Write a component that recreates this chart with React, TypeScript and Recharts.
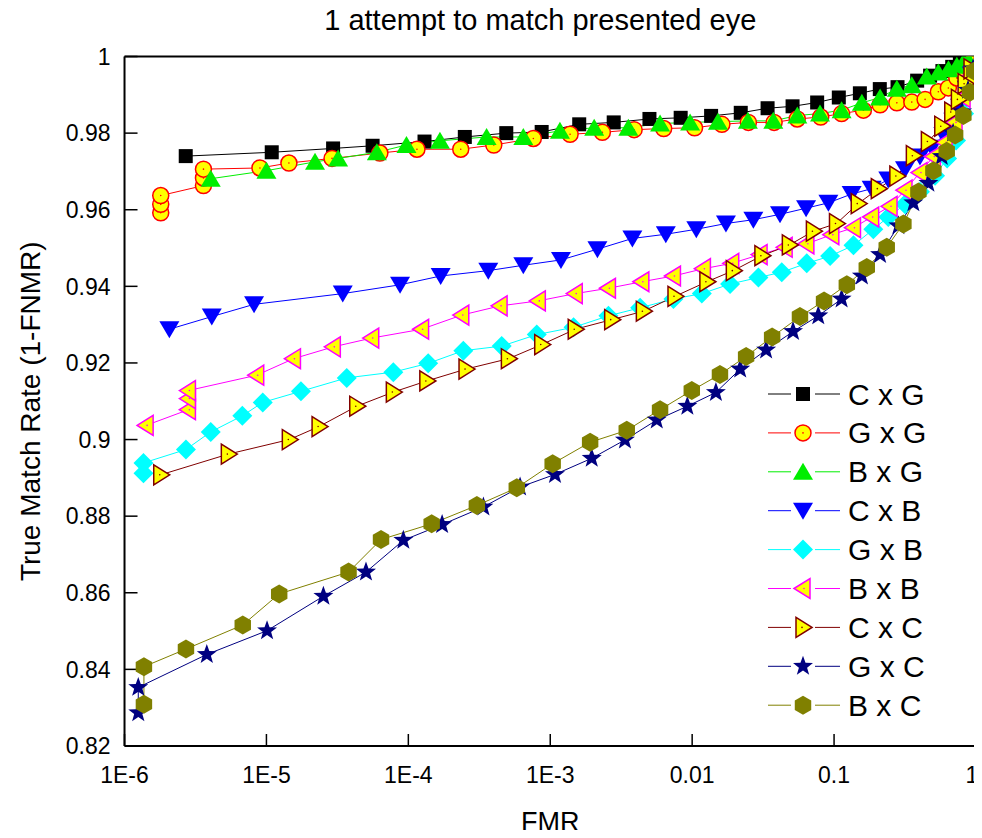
import React from 'react';
import { LineChart, Line, XAxis, YAxis, Legend } from 'recharts';

const FONT = '"Liberation Sans", Arial, sans-serif';

// axis ticks
const xTicks = [1e-6, 1e-5, 1e-4, 1e-3, 0.01, 0.1, 1];
const xTickLabels = ['1E-6', '1E-5', '1E-4', '1E-3', '0.01', '0.1', '1'];
const yTicks = [0.82, 0.84, 0.86, 0.88, 0.9, 0.92, 0.94, 0.96, 0.98, 1];
const yTickLabels = ['0.82', '0.84', '0.86', '0.88', '0.9', '0.92', '0.94', '0.96', '0.98', '1'];

// minor tick positions (2..9 per decade, every 0.005 on y)
const xMinor: number[] = [];
for (let d = -6; d < 0; d++) for (let m = 2; m <= 9; m++) xMinor.push(m * Math.pow(10, d));
const yMinor: number[] = [];
for (let i = 0; i <= 36; i++) yMinor.push(Math.round((0.82 + i * 0.005) * 1000) / 1000);

// [FMR, true match rate]
const cxg: [number, number][] = [
  [2.7e-6, 0.974], [1.09e-5, 0.975], [2.95e-5, 0.976], [5.6e-5, 0.9767], [1.3e-4, 0.9778],
  [2.5e-4, 0.979], [4.9e-4, 0.98], [8.7e-4, 0.9803], [1.6e-3, 0.9823], [2.8e-3, 0.9828],
  [5.0e-3, 0.9837], [8.3e-3, 0.984], [1.36e-2, 0.9845], [2.2e-2, 0.9853], [3.4e-2, 0.9865],
  [5.1e-2, 0.987], [7.6e-2, 0.988], [0.108, 0.9893], [0.152, 0.9904], [0.21, 0.9915],
  [0.28, 0.992], [0.385, 0.9937], [0.475, 0.995], [0.58, 0.9962], [0.68, 0.9973],
  [0.77, 0.9985], [0.88, 0.9996], [0.98, 1.0],
];
const gxg: [number, number][] = [
  [1.8e-6, 0.9592], [1.8e-6, 0.9614], [1.8e-6, 0.9637], [3.6e-6, 0.9663], [3.6e-6, 0.9683],
  [3.6e-6, 0.9706], [9.0e-6, 0.9709], [1.44e-5, 0.9722], [2.9e-5, 0.9734], [6.3e-5, 0.9748],
  [1.15e-4, 0.9758], [2.34e-4, 0.9758], [4.0e-4, 0.9769], [7.6e-4, 0.9786], [1.38e-3, 0.9797],
  [2.33e-3, 0.9802], [3.9e-3, 0.9809], [6.3e-3, 0.9812], [1.04e-2, 0.9814], [1.62e-2, 0.9823],
  [2.49e-2, 0.9828], [3.78e-2, 0.9828], [5.5e-2, 0.9837], [8.05e-2, 0.9842], [0.113, 0.9851],
  [0.161, 0.986], [0.211, 0.9874], [0.277, 0.9879], [0.353, 0.9881], [0.438, 0.9888],
  [0.543, 0.9908], [0.639, 0.9918], [0.733, 0.9944], [0.815, 0.9958], [0.884, 0.9972],
  [0.97, 0.9996],
];
const bxg: [number, number][] = [
  [4.05e-6, 0.9681], [1.0e-5, 0.9702], [2.2e-5, 0.9725], [3.2e-5, 0.9734], [6.0e-5, 0.975],
  [9.7e-5, 0.9769], [1.67e-4, 0.978], [3.56e-4, 0.979], [6.46e-4, 0.979], [1.17e-3, 0.9806],
  [2.04e-3, 0.9814], [3.55e-3, 0.9814], [5.94e-3, 0.9825], [9.67e-3, 0.9828], [1.52e-2, 0.983],
  [2.47e-2, 0.9832], [3.73e-2, 0.9832], [5.51e-2, 0.9846], [7.96e-2, 0.9851], [0.113, 0.986],
  [0.157, 0.9879], [0.211, 0.9893], [0.277, 0.9916], [0.353, 0.9925], [0.45, 0.9948],
  [0.543, 0.9958], [0.64, 0.9967], [0.733, 0.9976], [0.815, 0.9985], [0.884, 0.999],
];
const cxb: [number, number][] = [
  [2.07e-6, 0.9288], [4.12e-6, 0.9321], [8.18e-6, 0.9353], [3.45e-5, 0.9381], [8.74e-5, 0.9404],
  [1.69e-4, 0.9427], [3.66e-4, 0.9441], [6.46e-4, 0.9455], [1.19e-3, 0.9469], [2.15e-3, 0.9497],
  [3.79e-3, 0.9525], [6.52e-3, 0.9536], [1.07e-2, 0.9549], [1.73e-2, 0.9564], [2.7e-2, 0.9574],
  [4.16e-2, 0.9588], [6.35e-2, 0.9604], [9.12e-2, 0.9618], [0.133, 0.9641], [0.184, 0.9655],
  [0.241, 0.9679], [0.316, 0.9706], [0.403, 0.9739], [0.488, 0.9762], [0.589, 0.9795],
  [0.693, 0.9832], [0.773, 0.9869], [0.861, 0.9916], [0.935, 0.9953],
];
const gxb: [number, number][] = [
  [1.36e-6, 0.8912], [1.36e-6, 0.8939], [2.71e-6, 0.8974], [4.05e-6, 0.902], [6.76e-6, 0.9062],
  [9.42e-6, 0.9097], [1.75e-5, 0.9126], [3.68e-5, 0.9161], [7.84e-5, 0.9176], [1.38e-4, 0.9199],
  [2.44e-4, 0.9232], [4.55e-4, 0.9244], [8.03e-4, 0.9274], [1.46e-3, 0.9293], [2.57e-3, 0.9323],
  [4.3e-3, 0.9344], [7.38e-3, 0.9367], [1.17e-2, 0.9381], [1.85e-2, 0.9406], [2.93e-2, 0.9423],
  [4.28e-2, 0.9437], [6.42e-2, 0.946], [9.38e-2, 0.9479], [0.137, 0.9507], [0.189, 0.9549],
  [0.241, 0.9581], [0.316, 0.9614], [0.403, 0.9647], [0.515, 0.9689], [0.626, 0.9734],
  [0.724, 0.9781], [0.825, 0.9851], [0.923, 0.992],
];
const bxb: [number, number][] = [
  [1.42e-6, 0.9037], [2.82e-6, 0.9078], [2.82e-6, 0.9107], [2.82e-6, 0.9128], [8.54e-6, 0.9168],
  [1.55e-5, 0.9211], [2.96e-5, 0.9242], [5.52e-5, 0.9265], [1.24e-4, 0.9288], [2.38e-4, 0.9325],
  [4.43e-4, 0.9349], [8.24e-4, 0.9362], [1.5e-3, 0.9381], [2.57e-3, 0.9395], [4.42e-3, 0.9412],
  [7.38e-3, 0.9427], [1.2e-2, 0.9446], [1.9e-2, 0.946], [3.01e-2, 0.9483], [4.52e-2, 0.9502],
  [6.43e-2, 0.9511], [9.64e-2, 0.9535], [0.137, 0.9553], [0.184, 0.9581], [0.248, 0.9609],
  [0.316, 0.9651], [0.403, 0.9697], [0.501, 0.9739], [0.606, 0.9776], [0.712, 0.9828],
  [0.811, 0.9893], [0.908, 0.9948],
];
const cxc: [number, number][] = [
  [1.8e-6, 0.8908], [5.39e-6, 0.8962], [1.45e-5, 0.9], [2.35e-5, 0.9034], [4.33e-5, 0.9087],
  [7.84e-5, 0.9124], [1.35e-4, 0.9153], [2.55e-4, 0.9184], [5.07e-4, 0.9211], [8.71e-4, 0.9248],
  [1.5e-3, 0.9288], [2.71e-3, 0.9313], [4.53e-3, 0.9335], [7.57e-3, 0.9374], [1.27e-2, 0.9412],
  [1.95e-2, 0.9441], [3.1e-2, 0.948], [4.84e-2, 0.9508], [7.15e-2, 0.9544], [0.104, 0.9564],
  [0.148, 0.9616], [0.205, 0.9655], [0.277, 0.9688], [0.362, 0.9741], [0.462, 0.9778],
  [0.574, 0.9818], [0.675, 0.9855], [0.752, 0.9888], [0.838, 0.9929], [0.923, 0.9968],
];
const gxc: [number, number][] = [
  [1.25e-6, 0.8287], [1.25e-6, 0.8353], [3.8e-6, 0.8439], [1.01e-5, 0.8501], [2.52e-5, 0.8591],
  [5.03e-5, 0.8654], [9.22e-5, 0.8737], [1.73e-4, 0.8778], [3.38e-4, 0.8824], [6.13e-4, 0.8876],
  [1.08e-3, 0.8909], [1.96e-3, 0.8951], [3.36e-3, 0.8999], [5.63e-3, 0.9051], [9.25e-3, 0.9087],
  [1.47e-2, 0.9123], [2.18e-2, 0.9184], [3.32e-2, 0.9234], [5.14e-2, 0.9282], [7.74e-2, 0.9323],
  [0.113, 0.9367], [0.157, 0.9427], [0.211, 0.9483], [0.284, 0.9558], [0.362, 0.9618],
  [0.462, 0.9669], [0.574, 0.9739], [0.69, 0.98], [0.798, 0.9856], [0.879, 0.9912],
  [0.955, 0.9968],
];
const bxc: [number, number][] = [
  [1.37e-6, 0.8309], [1.37e-6, 0.8407], [2.71e-6, 0.8453], [6.81e-6, 0.8516], [1.23e-5, 0.8597],
  [3.79e-5, 0.8654], [6.42e-5, 0.8739], [1.46e-4, 0.878], [3.04e-4, 0.8828], [5.81e-4, 0.8874],
  [1.04e-3, 0.8937], [1.91e-3, 0.8993], [3.46e-3, 0.9024], [5.94e-3, 0.9078], [9.94e-3, 0.9128],
  [1.57e-2, 0.917], [2.4e-2, 0.9217], [3.66e-2, 0.9268], [5.75e-2, 0.9321], [8.5e-2, 0.9362],
  [0.123, 0.9404], [0.17, 0.9449], [0.235, 0.9502], [0.308, 0.9563], [0.393, 0.9646],
  [0.501, 0.9702], [0.622, 0.9753], [0.713, 0.9795], [0.815, 0.9846], [0.908, 0.9907],
  [0.97, 0.9962],
];

type Kind = 'square' | 'circle' | 'up' | 'down' | 'diamond' | 'left' | 'right' | 'star' | 'hexagon';

const series: { name: string; data: [number, number][]; color: string; kind: Kind }[] = [
  { name: 'C x G', data: cxg, color: '#000000', kind: 'square' },
  { name: 'G x G', data: gxg, color: '#ff0000', kind: 'circle' },
  { name: 'B x G', data: bxg, color: '#00ee00', kind: 'up' },
  { name: 'C x B', data: cxb, color: '#0000ff', kind: 'down' },
  { name: 'G x B', data: gxb, color: '#00ffff', kind: 'diamond' },
  { name: 'B x B', data: bxb, color: '#ff00ff', kind: 'left' },
  { name: 'C x C', data: cxc, color: '#800000', kind: 'right' },
  { name: 'G x C', data: gxc, color: '#000080', kind: 'star' },
  { name: 'B x C', data: bxc, color: '#808000', kind: 'hexagon' },
];

const pts = (arr: number[][]) => arr.map((p) => p.join(',')).join(' ');

const Marker = ({ kind, color, cx, cy }: { kind: Kind; color: string; cx: number; cy: number }) => {
  if (cx == null || cy == null) return null;
  switch (kind) {
    case 'square':
      return <rect x={cx - 7} y={cy - 7} width={14} height={14} fill={color} />;
    case 'circle':
      return (
        <g>
          <circle cx={cx} cy={cy} r={8} fill="#ffff00" stroke={color} strokeWidth={1.5} />
          <circle cx={cx} cy={cy} r={0.8} fill={color} />
        </g>
      );
    case 'up':
      return <polygon points={pts([[cx, cy - 9], [cx + 10, cy + 8], [cx - 10, cy + 8]])} fill={color} />;
    case 'down':
      return <polygon points={pts([[cx - 10, cy - 8], [cx + 10, cy - 8], [cx, cy + 9]])} fill={color} />;
    case 'diamond':
      return <polygon points={pts([[cx, cy - 10], [cx + 10, cy], [cx, cy + 10], [cx - 10, cy]])} fill={color} />;
    case 'left':
      return (
        <g>
          <polygon points={pts([[cx - 9, cy], [cx + 7, cy - 10], [cx + 7, cy + 10]])} fill="#ffff00" stroke={color} strokeWidth={1.5} />
          <circle cx={cx + 1} cy={cy} r={0.8} fill={color} />
        </g>
      );
    case 'right':
      return (
        <g>
          <polygon points={pts([[cx + 9, cy], [cx - 7, cy - 10], [cx - 7, cy + 10]])} fill="#ffff00" stroke={color} strokeWidth={1.5} />
          <circle cx={cx - 1} cy={cy} r={0.8} fill={color} />
        </g>
      );
    case 'star': {
      const p: number[][] = [];
      for (let i = 0; i < 10; i++) {
        const r = i % 2 === 0 ? 10.5 : 4.3;
        const a = -Math.PI / 2 + (i * Math.PI) / 5;
        p.push([cx + r * Math.cos(a), cy + r * Math.sin(a)]);
      }
      return <polygon points={pts(p)} fill={color} />;
    }
    case 'hexagon': {
      const p: number[][] = [];
      for (let i = 0; i < 6; i++) {
        const a = -Math.PI / 2 + (i * Math.PI) / 3;
        p.push([cx + 9.5 * Math.cos(a), cy + 9.5 * Math.sin(a)]);
      }
      return <polygon points={pts(p)} fill={color} />;
    }
  }
  return null;
};

const fmtY = (v: number) => {
  const i = yTicks.findIndex((t) => Math.abs(t - v) < 1e-6);
  return i >= 0 ? yTickLabels[i] : '';
};

// x tick labels; the last one ("1") is nudged left so it stays inside the page
const XTick = (p: any) => {
  const i = xTicks.findIndex((t) => Math.abs(Math.log10(t) - Math.log10(p.payload.value)) < 1e-6);
  if (i < 0) return null;
  const last = i === xTicks.length - 1;
  return (
    <text x={p.x - (last ? 4 : 0)} y={p.y} dy="0.71em" textAnchor="middle" fontSize={23} fontFamily={FONT} fill="#000">
      {xTickLabels[i]}
    </text>
  );
};

const LegendBox = () => (
  <svg width={215} height={352} style={{ display: 'block' }}>
    {series.map((s, i) => {
      const y = 19 + i * 38.9;
      return (
        <g key={s.name}>
          <line x1={8} x2={31} y1={y} y2={y} stroke={s.color} strokeWidth={1} />
          <line x1={55} x2={80} y1={y} y2={y} stroke={s.color} strokeWidth={1} />
          <Marker kind={s.kind} color={s.color} cx={43} cy={y} />
          <text x={88} y={y} dominantBaseline="central" fontSize={30} fontFamily={FONT} fill="#000">
            {s.name}
          </text>
        </g>
      );
    })}
  </svg>
);

const axisLine = { stroke: '#000', strokeWidth: 2 };
const tickLine = { stroke: '#000', strokeWidth: 1.5 };
const tickStyle = { fill: '#000', fontSize: 23, fontFamily: FONT };
const THIN = 0.01; // axes need a non-zero box to render, but should not take room

export default function App() {
  return (
    <div style={{ margin: -8, width: 982, height: 838, overflow: 'hidden' }}>
      <LineChart width={982} height={838} margin={{ top: 56.5, right: 6, bottom: 92, left: 124.5 }}>
        <XAxis
          xAxisId="x"
          type="number"
          dataKey="x"
          scale="log"
          domain={[1e-6, 1]}
          allowDataOverflow
          ticks={xTicks}
          interval={0}
          height={THIN}
          tickSize={-12}
          tickMargin={33}
          tick={<XTick />}
          axisLine={axisLine}
          tickLine={tickLine}
          label={{
            content: (p: any) => (
              <text
                x={p.viewBox.x + p.viewBox.width / 2}
                y={p.viewBox.y + 76}
                textAnchor="middle"
                dominantBaseline="central"
                fontSize={27}
                fontFamily={FONT}
                fill="#000"
              >
                FMR
              </text>
            ),
          }}
        />
        <XAxis xAxisId="xm" type="number" dataKey="x" scale="log" domain={[1e-6, 1]} allowDataOverflow ticks={xMinor}
          interval={0} height={THIN} tickSize={-6} tick={false} axisLine={false} tickLine={tickLine} />
        <XAxis
          xAxisId="xt"
          orientation="top"
          type="number"
          dataKey="x"
          scale="log"
          domain={[1e-6, 1]}
          allowDataOverflow
          ticks={xTicks}
          interval={0}
          height={THIN}
          tickSize={-12}
          tick={false}
          axisLine={axisLine}
          tickLine={tickLine}
          label={{
            content: (p: any) => (
              <text
                x={p.viewBox.x + p.viewBox.width / 2 - 10}
                y={p.viewBox.y - 37}
                textAnchor="middle"
                dominantBaseline="central"
                fontSize={29}
                fontFamily={FONT}
                fill="#000"
              >
                1 attempt to match presented eye
              </text>
            ),
          }}
        />
        <XAxis xAxisId="xtm" orientation="top" type="number" dataKey="x" scale="log" domain={[1e-6, 1]} allowDataOverflow
          ticks={xMinor} interval={0} height={THIN} tickSize={-6} tick={false} axisLine={false} tickLine={tickLine} />
        <YAxis
          yAxisId="y"
          type="number"
          domain={[0.82, 1]}
          allowDataOverflow
          ticks={yTicks}
          interval={0}
          width={THIN}
          tickSize={-13}
          tickMargin={27}
          tickFormatter={fmtY}
          tick={tickStyle}
          axisLine={axisLine}
          tickLine={tickLine}
          label={{
            content: (p: any) => {
              const x = p.viewBox.x - 94;
              const y = p.viewBox.y + p.viewBox.height / 2 + 10;
              return (
                <text
                  x={x}
                  y={y}
                  transform={`rotate(-90, ${x}, ${y})`}
                  textAnchor="middle"
                  dominantBaseline="central"
                  fontSize={28}
                  fontFamily={FONT}
                  fill="#000"
                >
                  True Match Rate (1-FNMR)
                </text>
              );
            },
          }}
        />
        <YAxis yAxisId="ym" type="number" domain={[0.82, 1]} allowDataOverflow ticks={yMinor} interval={0} width={THIN}
          tickSize={-7} tick={false} axisLine={false} tickLine={tickLine} />
        <YAxis yAxisId="yr" orientation="right" type="number" domain={[0.82, 1]} allowDataOverflow ticks={yTicks}
          interval={0} width={THIN} tickSize={-13} tick={false} axisLine={axisLine} tickLine={tickLine} />
        <YAxis yAxisId="yrm" orientation="right" type="number" domain={[0.82, 1]} allowDataOverflow ticks={yMinor}
          interval={0} width={THIN} tickSize={-7} tick={false} axisLine={false} tickLine={tickLine} />
        <Legend
          layout="vertical"
          align="center"
          verticalAlign="middle"
          wrapperStyle={{ left: 760, top: 375, width: 215, height: 352 }}
          content={() => <LegendBox />}
        />
        {series.map((s) => (
          <Line
            key={s.name}
            xAxisId="x"
            yAxisId="y"
            type="linear"
            name={s.name}
            data={s.data.map(([x, y]) => ({ x, y }))}
            dataKey="y"
            stroke={s.color}
            strokeWidth={1}
            isAnimationActive={false}
            activeDot={false}
            dot={(p: any) => <Marker key={`${s.name}-${p.index}`} kind={s.kind} color={s.color} cx={p.cx} cy={p.cy} />}
          />
        ))}
      </LineChart>
    </div>
  );
}
